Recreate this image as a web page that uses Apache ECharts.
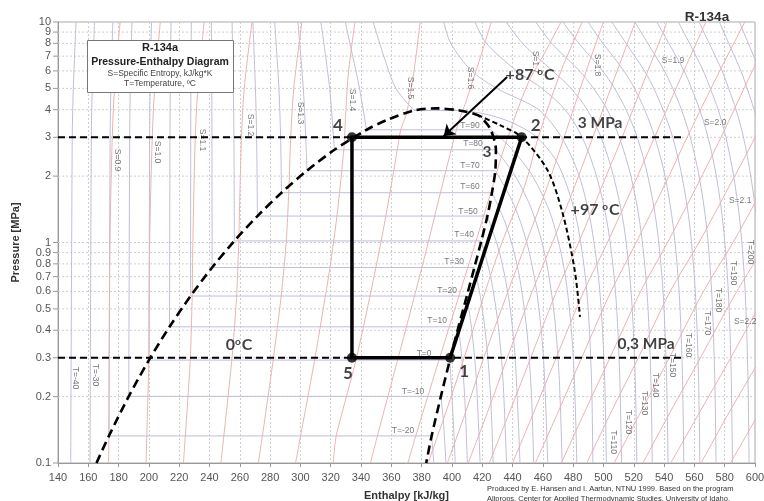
<!DOCTYPE html>
<html><head><meta charset="utf-8">
<script src="https://cdn.jsdelivr.net/npm/echarts@6/dist/echarts.min.js"></script>
<style>html,body{margin:0;padding:0;background:#fff}#c{width:764px;height:501px}</style>
</head><body><div id="c"></div>
<script>
// ---------------- DATA ----------------
const yTicks = [0.1,0.2,0.3,0.4,0.5,0.6,0.7,0.8,0.9,1,2,3,4,5,6,7,8,9,10];

const satLiquid = [[165.4,0.1],[173.6,0.1327],[186.7,0.2006],[200,0.2928],[213.6,0.4146],[227.5,0.5717],[241.7,0.7702],[256.4,1.0166],[271.6,1.3179],[287.5,1.6818],[304.3,2.1168],[322.5,2.6332],[343.6,3.2445],[357,3.59],[375,3.97],[389.6,4.059]];
const satVapor = [[389.6,4.059],[405,3.97],[417,3.78],[421,3.59],[425.6,3.2445],[429,2.6332],[428.6,2.1168],[426.4,1.6818],[423.4,1.3179],[419.4,1.0166],[414.8,0.7702],[409.8,0.5717],[404.3,0.4146],[398.6,0.2928],[392.7,0.2006],[386.6,0.1327],[383,0.1]];

const cyclePath = [[398.8,0.3],[446,3],[334,3],[334,0.3],[398.8,0.3]];
const cyclePoints = [[398.8,0.3],[446,3],[334,3],[334,0.3]];
const cycleNames = ['1','2','4','5'];
const isobarHigh = [[140,3],[552,3]];
const isobarLow = [[140,0.3],[552,0.3]];
const isotherm97 = [[417,3.78],[432,3.4],[446,3.0],[463,2.13],[473,1.36],[481,0.75],[484.5,0.46]];

// saturation table used for the horizontal isotherm parts
const satT  = [-20,-10,0,10,20,30,40,50,60,70,80,90,100];
const satP  = [0.1327,0.2006,0.2928,0.4146,0.5717,0.7702,1.0166,1.3179,1.6818,2.1168,2.6332,3.2445,3.97];
const satHf = [173.6,186.7,200,213.6,227.5,241.7,256.4,271.6,287.5,304.3,322.5,343.6,375];
const satHg = [386.6,392.7,398.6,404.3,409.8,414.8,419.4,423.4,426.4,428.6,429.0,425.6,405];

// liquid isotherms (T=-40 ... 100)
const isothermLiquid = [
 [[148.4,0.1],[149.4,3],[150.1,5],[151.9,10]],
 [[161.1,0.1],[162,3],[162.6,5],[164.1,10]],
 [[173.6,0.1327],[174.4,3],[174.9,5],[176.2,10]],
 [[186.7,0.2006],[187.3,3],[187.7,5],[188.8,10]],
 [[200,0.2928],[200.5,3],[200.8,5],[201.7,10]],
 [[213.6,0.4146],[213.9,3],[214.1,5],[214.6,10]],
 [[227.5,0.5717],[227.6,3],[227.7,5],[228,10]],
 [[241.7,0.7702],[241.6,3],[241.5,5],[241.2,10]],
 [[256.4,1.0166],[256.1,3],[255.7,5],[254.9,10]],
 [[271.6,1.3179],[271.1,3],[270.3,5],[268.6,10]],
 [[287.5,1.6818],[286.9,3],[285.8,5],[283,10]],
 [[304.3,2.1168],[303.5,3],[301.9,5],[298.3,10]],
 [[322.5,2.6332],[321.8,3],[319.3,5],[313.5,10]],
 [[343.6,3.2445],[339,5],[334.5,7],[329.6,10]],
 [[375,3.97],[363,5],[355,7],[348,10]]
];
// superheated vapour isotherms (T=-20 ... 100)
const isothermVapor = [
 [[386.6,0.1327],[387.3,0.115],[388,0.1]],
 [[392.7,0.2006],[394.5,0.15],[396,0.1]],
 [[398.6,0.2928],[400,0.2],[401,0.15],[402.2,0.1]],
 [[404.3,0.4146],[406.5,0.3],[408.4,0.2],[410.2,0.1]],
 [[409.8,0.5717],[413.1,0.4],[415.9,0.25],[418.6,0.1]],
 [[414.8,0.7702],[419.1,0.55],[422.8,0.35],[425.5,0.2],[427.2,0.1]],
 [[419.4,1.0166],[425.5,0.7],[430,0.45],[433.5,0.25],[436,0.1]],
 [[423.4,1.3179],[431.4,0.9],[437.6,0.55],[441.7,0.3],[444.9,0.1]],
 [[426.4,1.6818],[435.7,1.2],[443.7,0.75],[449.4,0.4],[452.5,0.2],[453.9,0.1]],
 [[428.6,2.1168],[440.6,1.5],[449.4,1.0],[455.9,0.6],[460.4,0.3],[463.2,0.1]],
 [[429,2.6332],[441.8,2.0],[452.8,1.4],[461,0.9],[467.1,0.5],[470.7,0.25],[472.7,0.1]],
 [[425.6,3.2445],[438.5,2.7],[453.2,2.0],[465.8,1.3],[474.9,0.7],[480.1,0.3],[482.4,0.1]],
 [[405,3.97],[420,3.85],[435,3.6],[447,3.3],[456,3.0],[468,2.4],[476,1.8],[483,1.2],[489,0.6],[492,0.25],[493,0.1]]
];
// supercritical isotherms
const superT = [110,120,130,140,150,160,170,180,190,200,210,220,230];
const superP = [10,8,6,5,4,3,2,1.2,0.6,0.25,0.1];
const superH = [
 [394.6,399.2,413,429.6,457.2,472.3,484.0,491.9,497.6,500.7,501.9],
 [415.2,422.8,442.7,459.4,474.7,486,495.4,502.7,507.9,510.7,511.9],
 [435.9,446.6,466.4,478.6,489.3,498.4,506.6,513.4,518.2,520.9,522.0],
 [455.3,465.9,484.2,493.4,502.5,510.4,518.1,524.2,528.7,531.2,532.2],
 [473.2,483.8,499.4,507.3,514.9,522.3,529.3,535.1,539.3,541.6,542.6],
 [489.7,499.7,513.5,520.5,527.2,533.9,540.6,545.9,549.9,552.1,553.0],
 [505.5,514.9,527.1,533.2,539.3,545.7,551.8,556.9,560.6,562.7,563.6],
 [520.7,529.3,540.2,545.7,551.5,557.3,563.1,567.9,571.4,573.4,574.3],
 [535.2,543.1,553.2,558.1,563.5,569.0,574.5,579.0,582.4,584.3,585.1],
 [549.4,556.8,565.9,570.5,575.7,580.8,585.9,590.3,593.5,595.3,596.1],
 [563.1,569.8,578.3,582.6,587.5,592.4,597.2,601.5,604.6,606.3,607.1],
 [576.5,582.7,590.7,594.8,599.4,604.1,608.7,612.8,615.7,617.3,618.1],
 [589.7,595.6,603.1,607.0,611.4,615.9,620.3,624.2,627.0,628.5,629.2]
];
// isentropes
const entropyS = [0.9,1.0,1.1,1.2,1.3,1.4,1.5,1.6,1.7,1.75,1.8,1.85,1.9,1.95,2.0,2.05,2.1,2.15,2.2,2.25,2.3,2.35];
const entropyLower = [
 [[173.4,0.1],[173.6,0.133]],
 [[198.1,0.1],[200,0.2928]],
 [[222.8,0.1],[227.3,0.2928],[228.6,0.583]],
 [[247.5,0.1],[254.7,0.2928],[257.9,0.5717],[259.4,1.07]],
 [[272.2,0.1],[274.9,0.1327],[282,0.2928],[287.3,0.5717],[290.7,1.0166],[292.5,1.81]],
 [[296.8,0.1],[300.1,0.1327],[309.4,0.2928],[313.1,0.4146],[319.5,0.7702],[324.1,1.3179],[327.3,2.1168],[329,2.81]],
 [[321.6,0.1],[323.6,0.1327],[336.7,0.2928],[345.9,0.5717],[353.3,1.0166],[359.1,1.6818],[363.9,2.6332],[366.2,3.2445],[370,3.82]],
 [[346.2,0.1],[350.8,0.1327],[364.1,0.2928],[375.3,0.5717],[384.6,1.0166],[392.4,1.6818],[399.5,2.6332],[402.9,3.2445],[406,3.8]],
 [[370.9,0.1],[376.1,0.1327],[391.4,0.2928],[404.6,0.5717],[415.9,1.0166],[427,1.81]]
];
const entropyUpper = [
 [[173.6,0.133],[174.3,1],[175.8,3],[177.3,5],[181,10]],
 [[200,0.2928],[200.5,1],[202.2,3],[203.8,5],[207.5,10]],
 [[228.6,0.583],[229,1],[230.6,3],[232.3,5],[236.4,10]],
 [[259.4,1.07],[261.1,3],[262.9,5],[268,10]],
 [[292.5,1.81],[293.6,3],[295.6,5],[301,10]],
 [[329,2.81],[330,4],[331.8,6],[336,10]],
 [[370,3.82],[372,4.5],[375,6],[379,10]],
 [[406,3.8],[409,4.3],[414,5.5],[419,7],[426,10]],
 [[427,1.81],[433,2.5],[439,3.3],[445,4.3],[452,5.6],[460,7],[472,10]],
 [[384.3,0.1],[396,0.17],[408,0.3],[422,0.6],[433,1],[448,1.8],[457,3],[472,6],[486,10]],
 [[397,0.1],[409,0.17],[421,0.3],[437,0.6],[449,1],[463,1.8],[474,3],[488.6,6],[500,10]],
 [[410.7,0.1],[423.5,0.17],[436.5,0.3],[453,0.6],[466.3,1],[481,1.8],[493,3],[509,6],[521,10]],
 [[424.6,0.1],[438,0.17],[452,0.3],[469,0.6],[483.6,1],[499,1.8],[512.3,3],[529.3,6],[542,10]],
 [[440,0.1],[454,0.17],[468.8,0.3],[487,0.6],[502.6,1],[519.5,1.8],[533.7,3],[553,6],[567.6,10]],
 [[455,0.1],[470,0.17],[485.6,0.3],[505,0.6],[521.6,1],[540,1.8],[555.2,3],[576.7,6],[593.3,10]],
 [[472.2,0.1],[487.5,0.17],[504.3,0.3],[524.5,0.6],[542.3,1],[561.5,1.8],[577.6,3],[598.3,6],[615,10]],
 [[489,0.1],[505,0.17],[523,0.3],[544,0.6],[563,1],[583,1.8],[600,3],[620,6]],
 [[507,0.1],[524.5,0.17],[543.5,0.3],[566,0.6],[585.5,1],[606,1.8]],
 [[526,0.1],[544,0.17],[564,0.3],[588,0.6],[608,1]],
 [[544.4,0.1],[563.5,0.17],[584,0.3],[608,0.6]],
 [[564.4,0.1],[583,0.17],[604,0.3]],
 [[583.8,0.1],[603,0.17]]
];

// ---------------- CHART ----------------
const F = 'Liberation Sans, Arial, sans-serif';
const GRAY = '#c2bed3', PINK = '#e8b3b3';
const series = [];

function line(data, color, width, opts) {
  return Object.assign({type:'line', data:data, showSymbol:false, symbol:'none', silent:true,
    animation:false, clip:true, z:2, lineStyle:{color:color, width:width}}, opts||{});
}

// y grid + labels
series.push({
  type:'custom', coordinateSystem:'cartesian2d', clip:false, silent:true, z:1,
  data: yTicks.map(v => [140, v]),
  renderItem: function(params, api){
    const v = api.value(1);
    const a = api.coord([140, v]), b = api.coord([600, v]);
    const ch = [];
    if (v > 0.1 && v < 10) ch.push({type:'line', shape:{x1:a[0],y1:a[1],x2:b[0],y2:b[1]},
       style:{stroke:'#cfcfcf', lineWidth:1, lineDash:[2,2]}});
    ch.push({type:'line', shape:{x1:a[0]-5,y1:a[1],x2:a[0],y2:a[1]}, style:{stroke:'#999', lineWidth:1}});
    ch.push({type:'text', x:a[0]-7, y:a[1], style:{text:String(v), fill:'#555',
       font:'11px '+F, align:'right', verticalAlign:'middle'}});
    return {type:'group', children:ch};
  }
});

// isotherms
isothermLiquid.forEach(d => series.push(line(d, GRAY, 1, {smooth:0.3})));
satT.forEach((t,i) => series.push(line([[satHf[i],satP[i]],[satHg[i],satP[i]]], GRAY, 1)));
isothermVapor.forEach(d => series.push(line(d, GRAY, 1, {smooth:0.3})));
superH.forEach(row => series.push(line(row.map((h,j)=>[h, superP[j]]), GRAY, 1, {smooth:0.3})));
// isentropes
entropyLower.forEach(d => series.push(line(d, PINK, 1, {smooth:0.2})));
entropyUpper.forEach(d => series.push(line(d, PINK, 1, {smooth:0.3})));

// dome
series.push(line(satLiquid.concat(satVapor.slice(1)), '#000', 2.6, {smooth:0.3, z:5,
  lineStyle:{color:'#000', width:2.6, type:[9,5]}}));
// isobars
series.push(line(isobarHigh, '#000', 2, {z:5, lineStyle:{color:'#000', width:2, type:[7,4]}}));
series.push(line(isobarLow, '#000', 2, {z:5, lineStyle:{color:'#000', width:2, type:[7,4]}}));
// 97 C isotherm
series.push(line(isotherm97, '#000', 2, {smooth:0.3, z:5, lineStyle:{color:'#000', width:2, type:[5,3]}}));
// cycle
series.push(line(cyclePath, '#000', 3.5, {z:6, lineStyle:{color:'#000', width:3.5, join:'miter'}}));
// arrow
series.push({type:'line', data:[], silent:true, z:7, markLine:{silent:true, animation:false,
  symbol:['none','arrow'], symbolSize:11, label:{show:false},
  lineStyle:{color:'#000', width:2, type:'solid'},
  data:[[{coord:[436.4,5.63]},{coord:[394.5,3.03]}]]}});
// cycle points
const bigLab = {fontFamily:'Lato, sans-serif', fontWeight:'bold', fontSize:17, color:'#111'};
const ptOffsets = [[14,14],[14,-12],[-14,-12],[-4,16]];
series.push({type:'scatter', data: cyclePoints.map((p,i)=>({value:p, name:cycleNames[i],
   label:{show:true, formatter:cycleNames[i], position:'inside', offset:ptOffsets[i], ...bigLab}})),
   symbolSize:10, itemStyle:{color:'#000'}, z:8, silent:true, animation:false, clip:false});

// text annotations
function textSeries(items, style, z) {
  return {type:'scatter', symbolSize:0, silent:true, animation:false, clip:false, z:z||9,
    data: items.map(it => ({value:[it[0],it[1]], label:Object.assign({show:true, position:'inside',
       formatter: it[2], rotate: it[3]||0}, style)}))};
}
const rich = {
  b:{fontFamily:'Lato, sans-serif', fontWeight:'bold', fontSize:16, color:'#111'},
  s:{fontFamily:'Lato, sans-serif', fontWeight:'bold', fontSize:10, color:'#111', verticalAlign:'top', padding:[0,1,6,0]}
};
series.push(textSeries([
  [497.8,3.48,'3 MPa'],
  [528.1,0.3465,'0,3 MPa'],
  [423.2,2.573,'3']
], {fontFamily:'Lato, sans-serif', fontWeight:'bold', fontSize:15.5, color:'#111'}));
series.push(textSeries([
  [259.5,0.3428,'{b|0}{s|o}{b|C}'],
  [451.6,5.75,'{b|+87 }{s|o}{b|C}'],
  [494.5,1.404,'{b|+97 }{s|o}{b|C}']
], {rich:rich}));

const small = {fontFamily:F, fontSize:8.5, color:'#555'};
series.push(textSeries([
  [178.9,2.366,'S=0.9',-90],[205.3,2.573,'S=1.0',-90],[235.0,2.917,'S=1.1',-90],
  [266.7,3.41,'S=1.2',-90],[299.7,3.87,'S=1.3',-90],[334.1,4.43,'S=1.4',-90],
  [372.3,5.02,'S=1.5',-90],[411.9,5.57,'S=1.6',-90],[454.9,6.59,'S=1.7',-90],
  [495.8,6.38,'S=1.8',-90],[545.9,6.66,'S=1.9'],[573.7,3.48,'S=2.0'],
  [590.2,1.543,'S=2.1'],[593.5,0.436,'S=2.2'],
  [411.9,3.375,'T=90'],[413.9,2.797,'T=80'],[411.9,2.223,'T=70'],[411.9,1.785,'T=60'],
  [410.6,1.375,'T=50'],[408.0,1.081,'T=40'],[401.4,0.816,'T=30'],[396.8,0.6026,'T=20'],
  [390.2,0.4406,'T=10'],[381.6,0.312,'T=0'],[374.3,0.21,'T=-10'],[367.7,0.1397,'T=-20'],
  [151.2,0.243,'T=-40',-90],[164.4,0.2506,'T=-30',-90],
  [506.3,0.1245,'T=110',-90],[516.2,0.1535,'T=120',-90],[526.8,0.187,'T=130',-90],
  [534.1,0.2258,'T=140',-90],[545.3,0.278,'T=150',-90],[555.8,0.3428,'T=160',-90],
  [568.4,0.4314,'T=170',-90],[575.6,0.5484,'T=180',-90],[585.5,0.7275,'T=190',-90],
  [596.8,0.9055,'T=200',-90]
], small, 4));

const option = {
  animation:false,
  backgroundColor:'#fff',
  grid:{left:58, right:9, top:22, bottom:38, containLabel:false, outerBoundsMode:'none',
    show:true, borderColor:'#aaa', borderWidth:1, backgroundColor:'transparent'},
  xAxis:{type:'value', min:140, max:600, interval:20,
    name:'Enthalpy [kJ/kg]', nameLocation:'middle', nameGap:27,
    nameTextStyle:{fontFamily:F, fontWeight:'bold', fontSize:11, color:'#333'},
    axisLine:{show:true, lineStyle:{color:'#999'}}, axisTick:{show:true, length:4, lineStyle:{color:'#999'}},
    axisLabel:{fontFamily:F, fontSize:11, color:'#555', margin:9},
    splitLine:{show:true, lineStyle:{color:'#cfcfcf', type:[2,2]}}},
  yAxis:{type:'log', logBase:10, min:0.1, max:10,
    name:'Pressure [MPa]', nameLocation:'middle', nameGap:37,
    nameTextStyle:{fontFamily:F, fontWeight:'bold', fontSize:11, color:'#333'},
    axisLine:{show:true, lineStyle:{color:'#999'}}, axisTick:{show:false}, axisLabel:{show:false},
    splitLine:{show:false}},
  graphic:[
    {type:'rect', left:87, top:40, shape:{width:146, height:52}, style:{fill:'#fff', stroke:'#777', lineWidth:1}, z:100},
    {type:'text', x:160, y:48, z:101, style:{text:'R-134a', font:'bold 11px '+F, fill:'#222', align:'center', verticalAlign:'middle'}},
    {type:'text', x:160, y:62, z:101, style:{text:'Pressure-Enthalpy Diagram', font:'bold 10.5px '+F, fill:'#222', align:'center', verticalAlign:'middle'}},
    {type:'text', x:160, y:74, z:101, style:{text:'S=Specific Entropy, kJ/kg*K', font:'8.5px '+F, fill:'#444', align:'center', verticalAlign:'middle'}},
    {type:'text', x:160, y:84, z:101, style:{text:'T=Temperature, ºC', font:'8.5px '+F, fill:'#444', align:'center', verticalAlign:'middle'}},
    {type:'text', x:707, y:17, z:101, style:{text:'R-134a', font:'bold 13.5px '+F, fill:'#333', align:'center', verticalAlign:'middle'}},
    {type:'text', x:487, y:489, z:101, style:{text:'Produced by E. Hansen and I. Aartun, NTNU 1999. Based on the program', font:'7.5px '+F, fill:'#333', align:'left', verticalAlign:'middle'}},
    {type:'text', x:487, y:499, z:101, style:{text:'Allprops, Center for Applied Thermodynamic Studies, University of Idaho.', font:'7.5px '+F, fill:'#333', align:'left', verticalAlign:'middle'}}
  ],
  series: series
};
const chart = echarts.init(document.getElementById('c'), null, {renderer:'canvas'});
chart.setOption(option);
</script></body></html>
